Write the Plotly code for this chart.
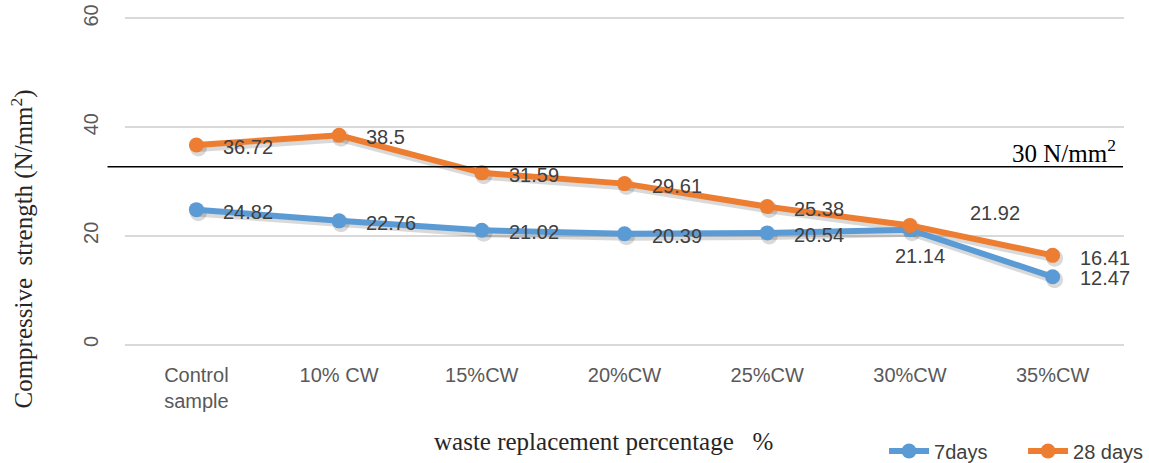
import plotly.graph_objects as go

# ---- data ----
categories = ["Control<br>sample", "10% CW", "15%CW", "20%CW", "25%CW", "30%CW", "35%CW"]
days7 = [24.82, 22.76, 21.02, 20.39, 20.54, 21.14, 12.47]
days28 = [36.72, 38.5, 31.59, 29.61, 25.38, 21.92, 16.41]
y_ticks = [0, 20, 40, 60]
series_names = ["7days", "28 days"]
ref_label = "30 N/mm<sup>2</sup>"

# ---- style ----
BLUE = "#5B9BD5"
ORANGE = "#ED7D31"
TXT = "#404040"
SANS = "Liberation Sans, Arial, sans-serif"
SERIF = "Liberation Serif, Times New Roman, serif"
ref_line_level = 32.7  # drawn position of the reference line in the picture
Y_RANGE = [-1, 61]
X_RANGE = [-0.5, 6.5]
PX_PER_Y = 327 / 60.0
PX_PER_X = 1000 / 7.0
SH_DX, SH_DY = 2, 3  # shadow offset in pixels

# label placement per point: (xanchor, xshift, yshift)
lab7 = [("left", 25, -2)] * 5 + [("center", 10, -26), ("left", 25, -1)]
lab28 = [("left", 25, -2)] * 5 + [("left", 58, 12), ("left", 25, -3)]

fig = go.Figure()
series = [(series_names[0], days7, BLUE), (series_names[1], days28, ORANGE)]

# soft drop shadows on the (hidden) base axes, shifted by a few pixels
for name, vals, col in series:
    fig.add_trace(go.Scatter(
        x=categories, y=vals, mode="lines+markers", showlegend=False, hoverinfo="skip",
        xaxis="x", yaxis="y",
        line=dict(color="rgba(0,0,0,0.15)", width=8),
        marker=dict(color="rgba(0,0,0,0.15)", size=17),
    ))

# main series on the visible overlay axes
for name, vals, col in series:
    fig.add_trace(go.Scatter(
        x=categories, y=vals, name=name, mode="lines+markers",
        xaxis="x2", yaxis="y2",
        line=dict(color=col, width=6),
        marker=dict(color=col, size=15, line=dict(color=col, width=0)),
    ))

annotations = []
for vals, labs in [(days7, lab7), (days28, lab28)]:
    for c, v, (xa, xs, ys) in zip(categories, vals, labs):
        annotations.append(dict(
            x=c, y=v, xref="x2", yref="y2", text=f"{v:g}", showarrow=False,
            xanchor=xa, yanchor="middle", xshift=xs, yshift=ys,
            font=dict(family=SANS, size=20, color=TXT),
        ))

# axis titles
annotations.append(dict(
    x=-0.1025, y=0.30, xref="paper", yref="paper", textangle=-90,
    text="Compressive\u00a0\u00a0strength\u00a0(N/mm<sup>2</sup>)", showarrow=False,
    xanchor="center", yanchor="middle",
    font=dict(family=SERIF, size=25, color="#262626"),
))
annotations.append(dict(
    x=0.479, y=-0.2705, xref="paper", yref="paper",
    text="waste replacement percentage\u00a0\u00a0\u00a0%", showarrow=False,
    xanchor="center", yanchor="middle",
    font=dict(family=SERIF, size=25, color="#262626"),
))
# reference label
annotations.append(dict(
    x=0.9935, y=ref_line_level, xref="paper", yref="y2",
    text=ref_label, showarrow=False, xanchor="right", yanchor="middle", yshift=16,
    font=dict(family=SERIF, size=25, color="#000000"),
))

fig.add_shape(type="line", xref="paper", yref="y2", x0=-0.0175, x1=0.999,
              y0=ref_line_level, y1=ref_line_level,
              line=dict(color="#000000", width=1.5))

dy = SH_DY / PX_PER_Y
dx = SH_DX / PX_PER_X

fig.update_layout(
    width=1149, height=463,
    margin=dict(l=124.5, r=24.5, t=12.55, b=112.55, autoexpand=False),
    paper_bgcolor="white", plot_bgcolor="white",
    annotations=annotations,
    showlegend=True,
    legend=dict(orientation="h", xref="container", yref="container",
                x=0.7694, xanchor="left", y=0.026, yanchor="middle",
                font=dict(family=SANS, size=20, color=TXT),
                bgcolor="rgba(0,0,0,0)", itemwidth=40, entrywidth=84),
    xaxis=dict(type="category", range=[X_RANGE[0] - dx, X_RANGE[1] - dx], visible=False),
    yaxis=dict(range=[Y_RANGE[0] + dy, Y_RANGE[1] + dy], visible=False),
    xaxis2=dict(type="category", overlaying="x", range=X_RANGE, showgrid=False,
                zeroline=False, showline=False, ticks="", ticklabelstandoff=11,
                automargin=False, side="bottom",
                tickfont=dict(family=SANS, size=20, color="#595959")),
    yaxis2=dict(overlaying="y", range=Y_RANGE, tickvals=y_ticks, showgrid=True,
                gridcolor="#D9D9D9", gridwidth=1.5, zeroline=False, showline=False,
                ticks="", automargin=False, side="left", tickangle=-90,
                ticklabelstandoff=22,
                tickfont=dict(family=SANS, size=20, color="#595959")),
)

fig.write_html("out.html", config={"displayModeBar": False},
               post_script="document.body.style.margin='0';")
